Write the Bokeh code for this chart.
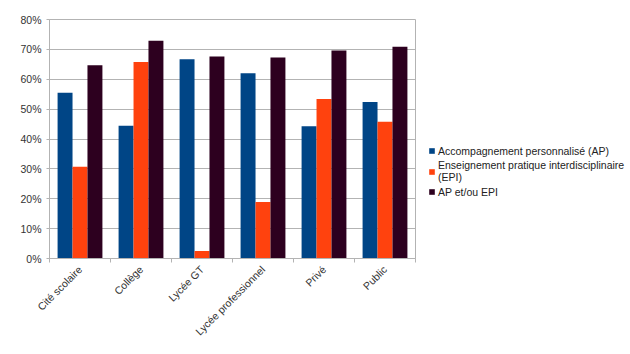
import math
from bokeh.plotting import figure
from bokeh.layouts import row
from bokeh.models import (ColumnDataSource, Range1d, FixedTicker, NumeralTickFormatter,
                          Legend, LegendItem)
from bokeh.embed import file_html
from bokeh.resources import INLINE

categories = ["Cité scolaire", "Collège", "Lycée GT", "Lycée professionnel", "Privé", "Public"]
ap = [0.555, 0.444, 0.667, 0.620, 0.443, 0.524]
epi = [0.307, 0.658, 0.025, 0.189, 0.534, 0.458]
ap_epi = [0.647, 0.729, 0.676, 0.673, 0.696, 0.709]
series_names = ["Accompagnement personnalisé (AP)",
                "Enseignement pratique interdisciplinaire\n(EPI)",
                "AP et/ou EPI"]
colors = ["#004586", "#ff420e", "#2d001f"]

FONT = "Liberation Sans"
centers = [i + 0.5 for i in range(len(categories))]
bw = 0.245

p = figure(width=417, height=354, output_backend="svg", toolbar_location=None,
           x_range=Range1d(0, len(categories)), y_range=Range1d(0, 0.8),
           min_border_left=49, min_border_right=2, min_border_top=19, min_border_bottom=96)

# legend panel (same data; its own ranges keep the bars out of view)
q = figure(width=213, height=354, output_backend="svg", toolbar_location=None,
           x_range=Range1d(-30, -29), y_range=Range1d(-30, -29), min_border=0)

items = []
for k, (vals, col, name) in enumerate(zip([ap, epi, ap_epi], colors, series_names)):
    src = ColumnDataSource(dict(x=[c + (k - 1) * bw for c in centers], top=vals))
    p.vbar(x="x", top="top", width=bw, source=src, fill_color=col, line_color=None)
    r = q.vbar(x="x", top="top", width=bw, source=src, fill_color=col, line_color=None)
    items.append(LegendItem(label=name, renderers=[r]))

# x axis: labels at centres, ticks at boundaries
p.xaxis.ticker = FixedTicker(ticks=centers, minor_ticks=list(range(len(categories) + 1)))
p.xaxis.major_label_overrides = {c: n for c, n in zip(centers, categories)}
p.xaxis.major_label_orientation = math.pi / 4
p.xaxis.major_tick_out = 0
p.xaxis.major_tick_in = 0
p.xaxis.minor_tick_out = 4
p.xaxis.minor_tick_in = 0
p.xaxis.minor_tick_line_color = "#b3b3b3"

p.yaxis.ticker = FixedTicker(ticks=[i / 10 for i in range(9)])
p.yaxis.formatter = NumeralTickFormatter(format="0%")
p.yaxis.major_tick_out = 3
p.yaxis.major_tick_in = 0
p.yaxis.minor_tick_line_color = None
p.yaxis.major_tick_line_color = "#b3b3b3"
p.yaxis.major_label_standoff = 5

for ax in (p.xaxis, p.yaxis):
    ax.axis_line_color = "#b3b3b3"
    ax.major_label_text_font = FONT
    ax.major_label_text_font_size = "10.5px"
    ax.major_label_text_color = "#333333"

p.xgrid.grid_line_color = None
p.ygrid.grid_line_color = "#b3b3b3"
p.ygrid.ticker = FixedTicker(ticks=[i / 10 for i in range(9)])
p.outline_line_color = "#b3b3b3"

q.axis.visible = False
q.grid.visible = False
q.outline_line_color = None

legend = Legend(items=items, location=(11, 60), orientation="vertical")
legend.label_text_font = FONT
legend.label_text_font_size = "10.5px"
legend.label_text_color = "#222222"
legend.glyph_width = 7
legend.glyph_height = 7
legend.label_standoff = 3
legend.label_height = 13
legend.spacing = 2
legend.padding = 0
legend.margin = 0
legend.border_line_color = None
legend.background_fill_alpha = 0
q.add_layout(legend, "center")

layout = row(p, q, spacing=0)
open("out.html", "w").write(file_html(layout, INLINE))
